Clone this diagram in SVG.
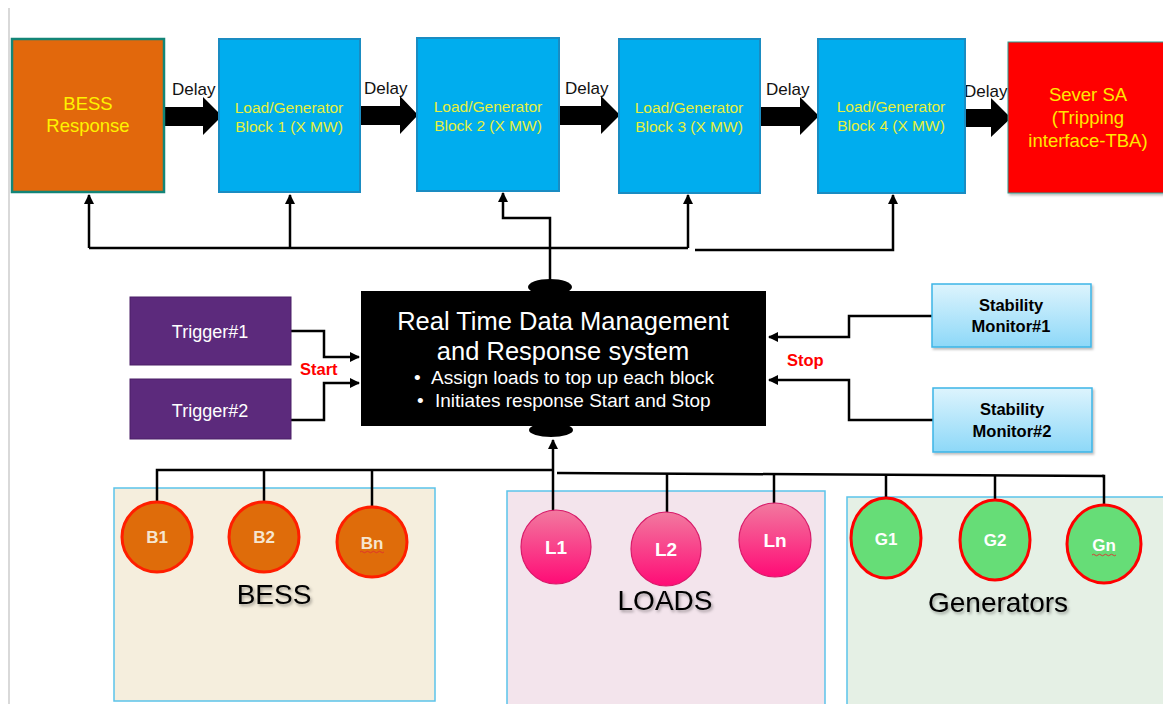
<svg xmlns="http://www.w3.org/2000/svg" width="1163" height="704" viewBox="0 0 1163 704">
  <defs>
    <style>
      text { font-family: "Liberation Sans", Arial, sans-serif; }
      .blk { fill: #00ADEE; stroke: #1A8CC2; stroke-width: 2; }
      .blkTxt { fill: #E6F03C; font-size: 15.5px; text-anchor: middle; }
      .delay { fill: #111; font-size: 17px; }
      .bigArrow { fill: #000; }
      .wire { fill: none; stroke: #000; stroke-width: 2.5; }
      .trig { fill: #5C2A7C; stroke: #4A1F66; stroke-width: 1; }
      .trigTxt { fill: #fff; font-size: 18px; text-anchor: middle; }
      .mon { fill: url(#monGrad); stroke: #3DB5E6; stroke-width: 1.5; }
      .monTxt { fill: #000; font-size: 16.5px; font-weight: bold; text-anchor: middle; }
      .red { fill: #FF0000; font-weight: bold; font-size: 16.5px; }
      .grp { stroke: #5BC3EA; stroke-width: 1.5; }
      .grpTxt { fill: #000; font-size: 28px; text-anchor: middle; filter: url(#txtShadow); }
      .bess { fill: #DF6C0A; stroke: #FF1E00; stroke-width: 3; }
      .bessTxt { fill: #F6E6CF; font-size: 17px; font-weight: bold; text-anchor: middle; }
      .load { fill: url(#loadGrad); stroke: #D81B6A; stroke-width: 1.2; }
      .gen { fill: #66DD77; stroke: #FF0000; stroke-width: 3; }
      .genTxt { fill: #fff; font-size: 17px; font-weight: bold; text-anchor: middle; }
      .nodeTxt { fill: #fff; font-size: 19px; font-weight: bold; text-anchor: middle; }
      .mgmtTitle { fill: #fff; font-size: 25.5px; text-anchor: middle; }
      .mgmtItem { fill: #fff; font-size: 19px; }
      .squiggle { fill: none; stroke: #E03030; stroke-width: 0.9; }
    </style>
    <linearGradient id="monGrad" x1="0" y1="0" x2="0" y2="1">
      <stop offset="0" stop-color="#DDF4FD"/>
      <stop offset="1" stop-color="#8DD8F8"/>
    </linearGradient>
    <linearGradient id="loadGrad" x1="0" y1="0" x2="0" y2="1">
      <stop offset="0" stop-color="#F2799F"/>
      <stop offset="1" stop-color="#FF0B76"/>
    </linearGradient>
    <filter id="txtShadow" x="-10%" y="-20%" width="130%" height="150%">
      <feDropShadow dx="1.5" dy="2" stdDeviation="1.5" flood-color="#000" flood-opacity="0.35"/>
    </filter>
    <filter id="boxShadow" x="-5%" y="-5%" width="115%" height="120%">
      <feDropShadow dx="1.5" dy="2" stdDeviation="1.2" flood-color="#000" flood-opacity="0.25"/>
    </filter>
    <marker id="arr" viewBox="0 0 10 10" refX="9" refY="5" markerWidth="4" markerHeight="4" orient="auto-start-reverse" markerUnits="strokeWidth">
      <path d="M0,0 L10,5 L0,10 z" fill="#000"/>
    </marker>
  </defs>

  <rect x="0" y="0" width="1163" height="704" fill="#fff"/>
  <!-- page edge -->
  <line x1="9" y1="8" x2="9" y2="704" stroke="#D9D9D9" stroke-width="2"/>

  <!-- group panels -->
  <g id="panel-bess">
    <rect class="grp" x="114" y="488" width="321" height="213" fill="#F5EEDD"/>
    <text class="grpTxt" x="274" y="604">BESS</text>
  </g>
  <g id="panel-loads">
    <rect class="grp" x="507" y="491" width="318" height="216" fill="#F3E4EC"/>
    <text class="grpTxt" x="665" y="610">LOADS</text>
  </g>
  <g id="panel-generators">
    <rect class="grp" x="847" y="497" width="318" height="210" fill="#E5F0E5"/>
    <text class="grpTxt" x="998" y="612">Generators</text>
  </g>

  <!-- connectors -->
  <g id="connectors">
    <!-- block-to-block delay arrows -->
    <polygon class="bigArrow" points="164,107 203,107 203,97 222,116 203,135 203,126 164,126"/>
    <polygon class="bigArrow" points="360,106 400,106 400,96 418,115 400,134 400,125 360,125"/>
    <polygon class="bigArrow" points="559,106 601,106 601,96 620,115 601,134 601,125 559,125"/>
    <polygon class="bigArrow" points="760,107 800,107 800,97 819,116 800,135 800,126 760,126"/>
    <polygon class="bigArrow" points="965,109 991,109 991,98 1011,118 991,137 991,127 965,127"/>
    <text class="delay" x="172" y="95">Delay</text>
    <text class="delay" x="364" y="94">Delay</text>
    <text class="delay" x="565" y="94">Delay</text>
    <text class="delay" x="766" y="95">Delay</text>
    <text class="delay" x="964" y="97">Delay</text>

    <!-- feedback from management system up to the blocks -->
    <polyline class="wire" points="89,248 688,248"/>
    <polyline class="wire" points="89,248 89,195" marker-end="url(#arr)"/>
    <polyline class="wire" points="290,248 290,195" marker-end="url(#arr)"/>
    <polyline class="wire" points="688,248 688,195" marker-end="url(#arr)"/>
    <polyline class="wire" points="550,284 550,218 503,218 503,193" marker-end="url(#arr)"/>
    <polyline class="wire" points="695,250 893,250 893,195" marker-end="url(#arr)"/>

    <!-- start triggers -->
    <polyline class="wire" points="291,331 324,331 324,357 359,357" marker-end="url(#arr)"/>
    <polyline class="wire" points="291,420 324,420 324,383 359,383" marker-end="url(#arr)"/>
    <text class="red" x="300" y="375">Start</text>

    <!-- stop monitors -->
    <polyline class="wire" points="932,316 849,316 849,337 769,337" marker-end="url(#arr)"/>
    <polyline class="wire" points="933,420 849,420 849,380 769,380" marker-end="url(#arr)"/>
    <text class="red" x="787" y="366">Stop</text>

    <!-- field bus to assets -->
    <polyline class="wire" points="553,512 553,440" marker-end="url(#arr)"/>
    <polyline class="wire" points="157,501 157,470 553,470"/>
    <line class="wire" x1="264" y1="470" x2="264" y2="501"/>
    <line class="wire" x1="372" y1="470" x2="372" y2="506"/>
    <line class="wire" x1="557" y1="473" x2="1104" y2="476"/>
    <line class="wire" x1="667" y1="473" x2="667" y2="513"/>
    <line class="wire" x1="774" y1="474" x2="774" y2="504"/>
    <line class="wire" x1="886" y1="474" x2="886" y2="499"/>
    <line class="wire" x1="995" y1="475" x2="995" y2="501"/>
    <polyline class="wire" points="1102,476 1104,476 1104,506"/>
  </g>

  <!-- top chain -->
  <g id="bess-response">
    <rect x="12" y="39" width="152" height="153" fill="#E2680C" stroke="#138577" stroke-width="2.5"/>
    <text x="88" y="110" fill="#FFF200" font-size="18.5" text-anchor="middle">BESS</text>
    <text x="88" y="132" fill="#FFF200" font-size="18.5" text-anchor="middle">Response</text>
  </g>
  <g id="block-1">
    <rect class="blk" x="219" y="39" width="141" height="153"/>
    <text class="blkTxt" x="289" y="113">Load/Generator</text>
    <text class="blkTxt" x="289" y="132">Block 1 (X MW)</text>
  </g>
  <g id="block-2">
    <rect class="blk" x="417" y="38" width="142" height="153"/>
    <text class="blkTxt" x="488" y="112">Load/Generator</text>
    <text class="blkTxt" x="488" y="131">Block 2 (X MW)</text>
  </g>
  <g id="block-3">
    <rect class="blk" x="619" y="39" width="141" height="154"/>
    <text class="blkTxt" x="689" y="113">Load/Generator</text>
    <text class="blkTxt" x="689" y="132">Block 3 (X MW)</text>
  </g>
  <g id="block-4">
    <rect class="blk" x="818" y="39" width="147" height="154"/>
    <text class="blkTxt" x="891" y="112">Load/Generator</text>
    <text class="blkTxt" x="891" y="131">Block 4 (X MW)</text>
  </g>
  <g id="sever-sa">
    <rect x="1008" y="42" width="160" height="151" fill="#FF0000" stroke="#2F9C8E" stroke-width="1" filter="url(#boxShadow)"/>
    <text x="1088" y="101" fill="#FFE800" font-size="18.5" text-anchor="middle">Sever SA</text>
    <text x="1088" y="124" fill="#FFE800" font-size="18.5" text-anchor="middle">(Tripping</text>
    <text x="1088" y="147" fill="#FFE800" font-size="18.5" text-anchor="middle">interface-TBA)</text>
  </g>

  <!-- central system -->
  <g id="management-system">
    <ellipse cx="550" cy="287" rx="22" ry="8" fill="#000"/>
    <ellipse cx="551" cy="430" rx="22" ry="7" fill="#000"/>
    <rect x="361" y="291" width="405" height="135" fill="#000"/>
    <text class="mgmtTitle" x="563" y="330">Real Time Data Management</text>
    <text class="mgmtTitle" x="563" y="360">and Response system</text>
    <text class="mgmtItem" x="414" y="384">•</text>
    <text class="mgmtItem" x="431" y="384">Assign loads to top up each block</text>
    <text class="mgmtItem" x="417" y="407">•</text>
    <text class="mgmtItem" x="435" y="407">Initiates response Start and Stop</text>
  </g>

  <g id="trigger-1">
    <rect class="trig" x="130" y="297" width="161" height="68"/>
    <text class="trigTxt" x="210" y="338">Trigger#1</text>
  </g>
  <g id="trigger-2">
    <rect class="trig" x="130" y="379" width="161" height="60"/>
    <text class="trigTxt" x="210" y="417">Trigger#2</text>
  </g>

  <g id="stability-monitor-1">
    <rect class="mon" x="932" y="284" width="159" height="63" filter="url(#boxShadow)"/>
    <text class="monTxt" x="1011" y="311">Stability</text>
    <text class="monTxt" x="1011" y="332">Monitor#1</text>
  </g>
  <g id="stability-monitor-2">
    <rect class="mon" x="933" y="388" width="159" height="64" filter="url(#boxShadow)"/>
    <text class="monTxt" x="1012" y="415">Stability</text>
    <text class="monTxt" x="1012" y="437">Monitor#2</text>
  </g>

  <!-- battery units -->
  <g id="b1">
    <circle class="bess" cx="157" cy="537" r="35"/>
    <text class="bessTxt" x="157" y="543">B1</text>
  </g>
  <g id="b2">
    <circle class="bess" cx="264" cy="537" r="35"/>
    <text class="bessTxt" x="264" y="543">B2</text>
  </g>
  <g id="bn">
    <circle class="bess" cx="372" cy="542" r="35"/>
    <text class="bessTxt" x="372" y="549">Bn</text>
    <path class="squiggle" d="M360,552 q1.5,-1.5 3,0 t3,0 t3,0 t3,0 t3,0 t3,0 t3,0 t3,0"/>
  </g>

  <!-- loads -->
  <g id="l1">
    <ellipse class="load" cx="556" cy="547" rx="35" ry="37"/>
    <text class="nodeTxt" x="556" y="554">L1</text>
  </g>
  <g id="l2">
    <ellipse class="load" cx="666" cy="549" rx="35" ry="37"/>
    <text class="nodeTxt" x="666" y="556">L2</text>
  </g>
  <g id="ln">
    <ellipse class="load" cx="775" cy="540" rx="36" ry="37"/>
    <text class="nodeTxt" x="775" y="547">Ln</text>
  </g>

  <!-- generators -->
  <g id="g1">
    <ellipse class="gen" cx="886" cy="538" rx="35" ry="40"/>
    <text class="genTxt" x="886" y="545">G1</text>
  </g>
  <g id="g2">
    <ellipse class="gen" cx="995" cy="540" rx="35" ry="40"/>
    <text class="genTxt" x="995" y="546">G2</text>
  </g>
  <g id="gn">
    <ellipse class="gen" cx="1104" cy="544" rx="37" ry="39"/>
    <text class="genTxt" x="1104" y="551">Gn</text>
    <path class="squiggle" d="M1092,555 q1.5,-1.5 3,0 t3,0 t3,0 t3,0 t3,0 t3,0 t3,0 t3,0"/>
  </g>
</svg>
